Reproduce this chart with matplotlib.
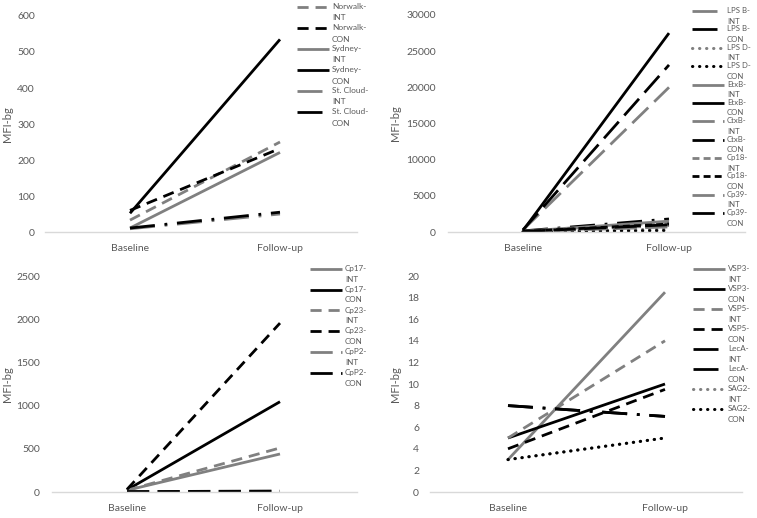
import matplotlib
matplotlib.use("Agg")
import matplotlib.pyplot as plt
import numpy as np
from matplotlib.legend_handler import HandlerLine2D

categories = ["Baseline", "Follow-up"]

# Panel 1 (top-left)
p1_labels = ["Norwalk-\nINT", "Norwalk-\nCON", "Sydney-\nINT", "Sydney-\nCON", "St. Cloud-\nINT", "St. Cloud-\nCON"]
norwalk_int = [33, 250]
norwalk_con = [60, 232]
sydney_int = [11, 221]
sydney_con = [52, 535]
stcloud_int = [9, 50]
stcloud_con = [11, 55]

# Panel 2 (top-right)
p2_labels = ["LPS B-\nINT", "LPS B-\nCON", "LPS D-\nINT", "LPS D-\nCON", "EtxB-\nINT", "EtxB-\nCON",
             "CtxB-\nINT", "CtxB-\nCON", "Cp18-\nINT", "Cp18-\nCON", "Cp39-\nINT", "Cp39-\nCON"]
lpsb_int = [100, 1300]
lpsb_con = [150, 1800]
lpsd_int = [30, 400]
lpsd_con = [50, 200]
etxb_int = [100, 1500]
etxb_con = [200, 27500]
ctxb_int = [300, 20000]
ctxb_con = [300, 23100]
cp18_int = [50, 900]
cp18_con = [80, 1100]
cp39_int = [60, 700]
cp39_con = [80, 1000]

# Panel 3 (bottom-left)
p3_labels = ["Cp17-\nINT", "Cp17-\nCON", "Cp23-\nINT", "Cp23-\nCON", "CpP2-\nINT", "CpP2-\nCON"]
cp17_int = [20, 440]
cp17_con = [25, 1045]
cp23_int = [20, 510]
cp23_con = [30, 1955]
cpp2_int = [5, 10]
cpp2_con = [5, 10]

# Panel 4 (bottom-right)
p4_labels = ["VSP3-\nINT", "VSP3-\nCON", "VSP5-\nINT", "VSP5-\nCON", "LecA-\nINT", "LecA-\nCON", "SAG2-\nINT", "SAG2-\nCON"]
vsp3_int = [3, 18.5]
vsp3_con = [5, 10]
vsp5_int = [5, 14]
vsp5_con = [4, 9.5]
leca_int = [8, 7]
leca_con = [8, 7]
sag2_int = [3, 5]
sag2_con = [3, 5]

GRAY = "#808080"
BLACK = "#000000"
SOLID = None
DASH = (4, 2.5)
LONGDASH = (8, 3)
LDD = (9, 3.5, 1, 3.5)
DOT = (0.1, 2.2)
SQDASH = (2.5, 1.5)

W, H = 757, 518
fig = plt.figure(figsize=(W / 100, H / 100), dpi=100)
plt.rcParams['font.family'] = ['Lato', 'DejaVu Sans']

TICK_COLOR = "#595959"


class TopHandler(HandlerLine2D):
    def __init__(self, offset, **kw):
        super().__init__(**kw)
        self.offset = offset

    def create_artists(self, legend, orig_handle, xdescent, ydescent, width, height, fontsize, trans):
        arts = super().create_artists(legend, orig_handle, xdescent, ydescent, width, height, fontsize, trans)
        for a in arts:
            a.set_ydata(np.asarray(a.get_ydata(), dtype=float) + self.offset)
        return arts


def make_ax(x0, x1, base, fu, ytop_px, ybot_px, ymax, ystep, ylabel_x, tickpad_px,
            series, labels, styles, leg_x, leg_y, leg_fs, leg_ls, leg_spacing, leg_off):
    ax = fig.add_axes([x0 / W, 1 - ybot_px / H, (x1 - x0) / W, (ybot_px - ytop_px) / H])
    scale = (fu - base)
    a = -(base - x0) / scale
    b = 1 + (x1 - fu) / scale
    ax.set_xlim(a, b)
    ax.set_ylim(0, ymax)
    xs = [0, 1]
    handles = []
    for vals, lab, (col, dash) in zip(series, labels, styles):
        ln, = ax.plot(xs, vals, color=col, lw=2.0, label=lab,
                      solid_capstyle='butt', dash_capstyle='butt')
        if dash is not None:
            ln.set_dashes(dash)
            if dash == DOT:
                ln.set_dash_capstyle('round')
                ln.set_linewidth(2.2)
        handles.append(ln)
    for s in ["top", "right", "left"]:
        ax.spines[s].set_visible(False)
    ax.spines["bottom"].set_color("#d9d9d9")
    ax.spines["bottom"].set_linewidth(1)
    ax.set_xticks(xs)
    ax.set_xticklabels(categories)
    ax.set_yticks([ystep * i for i in range(int(round(ymax / ystep)) + 1)])
    ax.tick_params(axis="both", length=0, labelsize=7.5, colors=TICK_COLOR)
    ax.tick_params(axis="x", pad=8.5)
    ax.tick_params(axis="y", pad=tickpad_px * 0.72)
    ax.set_ylabel("MFI-bg", fontsize=8, color=TICK_COLOR)
    ax.yaxis.set_label_coords((ylabel_x - x0) / (x1 - x0), 0.5)
    hm = {h: TopHandler(leg_off) for h in handles}
    leg = ax.legend(handles=handles, loc="upper left", handler_map=hm,
                    bbox_to_anchor=(leg_x / W, 1 - leg_y / H), bbox_transform=fig.transFigure,
                    frameon=False, fontsize=leg_fs, handlelength=23 / leg_fs, handletextpad=2.2 / leg_fs,
                    borderpad=0, borderaxespad=0, labelspacing=leg_spacing)
    for t in leg.get_texts():
        t.set_color(TICK_COLOR)
        t.set_linespacing(leg_ls)
    return ax


# Panel 1
make_ax(45, 357, 130, 280, 16, 232, 600, 100, 13, 10,
        [norwalk_int, norwalk_con, sydney_int, sydney_con, stcloud_int, stcloud_con],
        p1_labels,
        [(GRAY, DASH), (BLACK, DASH), (GRAY, SOLID), (BLACK, SOLID), (GRAY, LDD), (BLACK, LDD)],
        297, 3, 6.0, 1.75, 0.3, 4.2)

# Panel 2
make_ax(448, 745, 523, 669, 15, 232, 30000, 5000, 401, 12,
        [lpsb_int, lpsb_con, lpsd_int, lpsd_con, etxb_int, etxb_con, ctxb_int, ctxb_con,
         cp18_int, cp18_con, cp39_int, cp39_con],
        p2_labels,
        [(GRAY, LDD), (BLACK, LDD), (GRAY, DOT), (BLACK, DOT), (GRAY, SOLID), (BLACK, SOLID),
         (GRAY, LONGDASH), (BLACK, LONGDASH), (GRAY, SQDASH), (BLACK, SQDASH),
         (GRAY, LONGDASH), (BLACK, LONGDASH)],
        692, 7, 5.6, 1.6, 0.1, 3.6)

# Panel 3
make_ax(52, 357, 127, 280, 276, 492, 2500, 500, 13, 12,
        [cp17_int, cp17_con, cp23_int, cp23_con, cpp2_int, cpp2_con],
        p3_labels,
        [(GRAY, SOLID), (BLACK, SOLID), (GRAY, DASH), (BLACK, DASH), (GRAY, LONGDASH), (BLACK, LONGDASH)],
        310, 265, 5.8, 1.6, 0.4, 3.7)

# Panel 4
make_ax(430, 742, 508, 665, 276, 492, 20, 2, 401, 11,
        [vsp3_int, vsp3_con, vsp5_int, vsp5_con, leca_int, leca_con, sag2_int, sag2_con],
        p4_labels,
        [(GRAY, SOLID), (BLACK, SOLID), (GRAY, DASH), (BLACK, DASH), (BLACK, LDD), (BLACK, LDD),
         (GRAY, DOT), (BLACK, DOT)],
        693, 265, 5.8, 1.6, 0.3, 3.7)

fig.savefig("out.png", dpi=100)
